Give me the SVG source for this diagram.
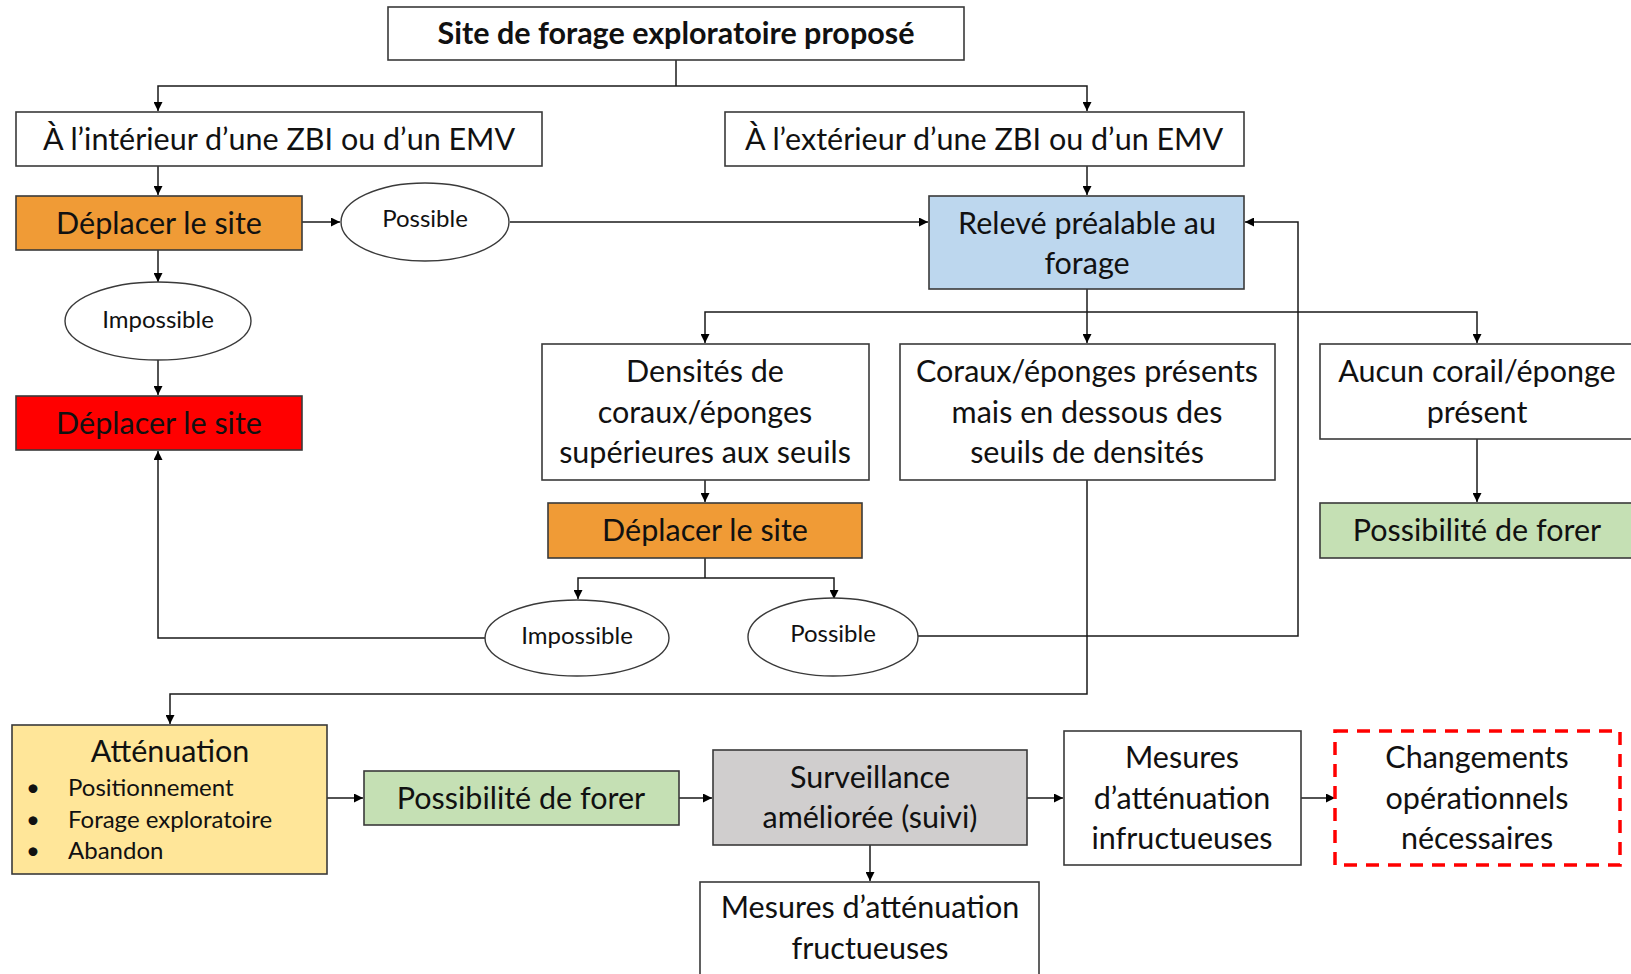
<svg xmlns="http://www.w3.org/2000/svg" width="1631" height="974" viewBox="0 0 1631 974">
<defs>
<marker id="ah" viewBox="0 0 10 10" refX="10" refY="5" markerWidth="9" markerHeight="9" markerUnits="userSpaceOnUse" orient="auto">
<path d="M0,0 L10,5 L0,10 z" fill="#000"/>
</marker>
<style>
.bx{stroke:#3a3a3a;stroke-width:1.6}
.el{fill:#fff;stroke:#3a3a3a;stroke-width:1.4}
.t{font-family:Lato,"Liberation Sans",sans-serif;font-size:30.5px;fill:#111;text-anchor:middle}
.s{font-family:Lato,"Liberation Sans",sans-serif;font-size:24px;fill:#111;text-anchor:middle}
.b{font-family:Lato,"Liberation Sans",sans-serif;font-size:24px;fill:#111}
.c{fill:none;stroke:#1a1a1a;stroke-width:1.5}
.ca{fill:none;stroke:#1a1a1a;stroke-width:1.5;marker-end:url(#ah)}
</style>
</defs>
<rect width="1631" height="974" fill="#fff"/>
<g id="connectors">
<path class="c" d="M676,60 V86"/>
<path class="ca" d="M676,86 H158 V111"/>
<path class="ca" d="M676,86 H1087 V111"/>
<path class="ca" d="M158,166 V195"/>
<path class="ca" d="M1087,166 V195"/>
<path class="ca" d="M302,222 H340"/>
<path class="ca" d="M510,222 H928"/>
<path class="ca" d="M158,250 V282"/>
<path class="ca" d="M158,360 V395"/>
<path class="c" d="M1087,289 V312"/>
<path class="ca" d="M1087,312 H705 V343"/>
<path class="ca" d="M1087,312 V343"/>
<path class="ca" d="M1087,312 H1477 V343"/>
<path class="ca" d="M705,480 V502"/>
<path class="ca" d="M1477,439 V502"/>
<path class="c" d="M705,558 V578"/>
<path class="ca" d="M705,578 H578 V599"/>
<path class="ca" d="M705,578 H834 V599"/>
<path class="ca" d="M486,638 H158 V451"/>
<path class="ca" d="M918,636 H1298 V222 H1245"/>
<path class="ca" d="M1087,480 V694 H170 V724"/>
<path class="ca" d="M327,798 H363"/>
<path class="ca" d="M679,798 H712"/>
<path class="ca" d="M1027,798 H1063"/>
<path class="ca" d="M1301,798 H1335"/>
<path class="ca" d="M870,845 V881"/>
</g>
<g id="n-top"><rect class="bx" x="388" y="7" width="576" height="53" fill="#fff"/><text class="t" x="676" y="44" font-weight="bold" font-size="31">Site de forage exploratoire proposé</text></g>
<g id="n-interieur"><rect class="bx" x="16" y="112" width="526" height="54" fill="#fff"/><text class="t" x="279" y="150">À l’intérieur d’une ZBI ou d’un EMV</text></g>
<g id="n-exterieur"><rect class="bx" x="725" y="112" width="519" height="54" fill="#fff"/><text class="t" x="984" y="150">À l’extérieur d’une ZBI ou d’un EMV</text></g>
<g id="n-deplacer1"><rect class="bx" x="16" y="196" width="286" height="54" fill="#F09B36"/><text class="t" x="159" y="234">Déplacer le site</text></g>
<g id="n-possible1"><ellipse class="el" cx="425" cy="222" rx="84" ry="39"/><text class="s" x="425" y="227">Possible</text></g>
<g id="n-releve"><rect class="bx" x="929" y="196" width="315" height="93" fill="#BDD7EE"/><text class="t" x="1087" y="234">Relevé préalable au</text><text class="t" x="1087" y="274">forage</text></g>
<g id="n-impossible1"><ellipse class="el" cx="158" cy="321" rx="93" ry="39"/><text class="s" x="158" y="328">Impossible</text></g>
<g id="n-deplacer-red"><rect class="bx" x="16" y="396" width="286" height="54" fill="#FF0000"/><text class="t" x="159" y="434">Déplacer le site</text></g>
<g id="n-densites"><rect class="bx" x="542" y="344" width="327" height="136" fill="#fff"/><text class="t" x="705" y="382">Densités de</text><text class="t" x="705" y="423">coraux/éponges</text><text class="t" x="705" y="463">supérieures aux seuils</text></g>
<g id="n-coraux"><rect class="bx" x="900" y="344" width="375" height="136" fill="#fff"/><text class="t" x="1087" y="382">Coraux/éponges présents</text><text class="t" x="1087" y="423">mais en dessous des</text><text class="t" x="1087" y="463">seuils de densités</text></g>
<g id="n-aucun"><rect class="bx" x="1320" y="344" width="314" height="95" fill="#fff"/><text class="t" x="1477" y="382">Aucun corail/éponge</text><text class="t" x="1477" y="423">présent</text></g>
<g id="n-possibilite1"><rect class="bx" x="1320" y="503" width="314" height="55" fill="#C5E0B4"/><text class="t" x="1477" y="541">Possibilité de forer</text></g>
<g id="n-deplacer2"><rect class="bx" x="548" y="503" width="314" height="55" fill="#F09B36"/><text class="t" x="705" y="541">Déplacer le site</text></g>
<g id="n-impossible2"><ellipse class="el" cx="577" cy="638" rx="92" ry="38"/><text class="s" x="577" y="644">Impossible</text></g>
<g id="n-possible2"><ellipse class="el" cx="833" cy="637" rx="85" ry="39"/><text class="s" x="833" y="642">Possible</text></g>
<g id="n-attenuation"><rect class="bx" x="12" y="725" width="315" height="149" fill="#FFE699"/><text class="t" x="170" y="762">Atténuation</text>
<text class="b" x="26" y="796">•</text><text class="b" x="68" y="796">Positionnement</text>
<text class="b" x="26" y="828">•</text><text class="b" x="68" y="828">Forage exploratoire</text>
<text class="b" x="26" y="859">•</text><text class="b" x="68" y="859">Abandon</text></g>
<g id="n-possibilite2"><rect class="bx" x="364" y="771" width="315" height="54" fill="#C5E0B4"/><text class="t" x="521" y="809">Possibilité de forer</text></g>
<g id="n-surveillance"><rect class="bx" x="713" y="750" width="314" height="95" fill="#D0CECE"/><text class="t" x="870" y="788">Surveillance</text><text class="t" x="870" y="828">améliorée (suivi)</text></g>
<g id="n-infructueuses"><rect class="bx" x="1064" y="731" width="237" height="134" fill="#fff"/><text class="t" x="1182" y="768">Mesures</text><text class="t" x="1182" y="809">d’atténuation</text><text class="t" x="1182" y="849">infructueuses</text></g>
<g id="n-changements"><rect x="1335" y="731" width="285" height="134" fill="#fff" stroke="#FF0000" stroke-width="3.5" stroke-dasharray="13,9"/><text class="t" x="1477" y="768">Changements</text><text class="t" x="1477" y="809">opérationnels</text><text class="t" x="1477" y="849">nécessaires</text></g>
<g id="n-fructueuses"><rect class="bx" x="700" y="882" width="339" height="100" fill="#fff"/><text class="t" x="870" y="918">Mesures d’atténuation</text><text class="t" x="870" y="959">fructueuses</text></g>
</svg>
